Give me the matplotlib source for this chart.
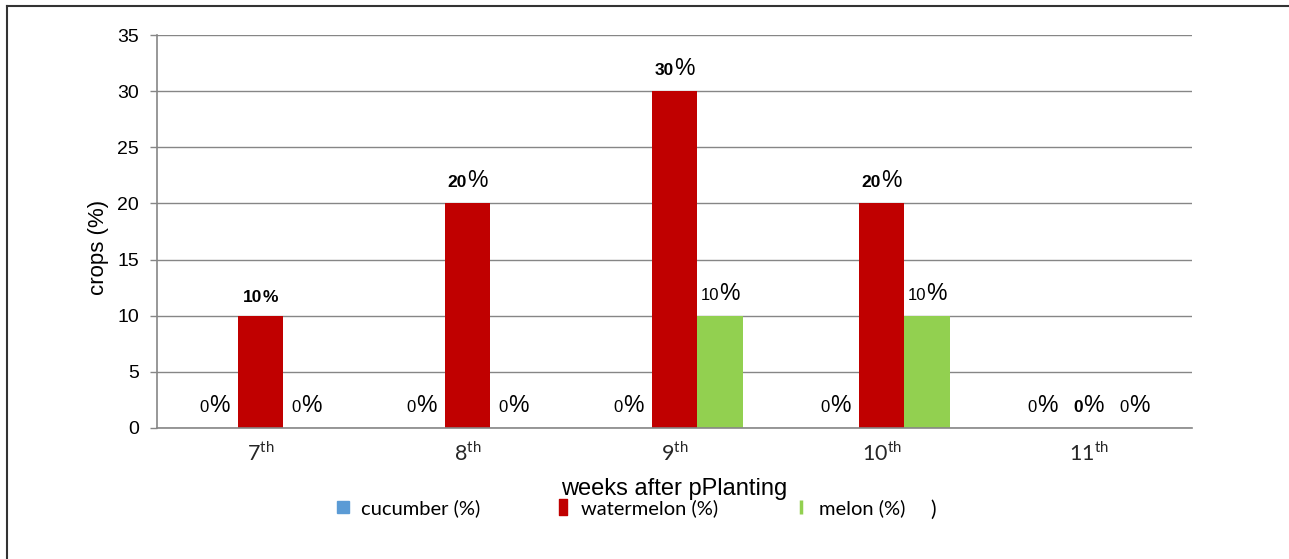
import matplotlib
matplotlib.use('Agg')
import matplotlib.pyplot as plt
import numpy as np
from matplotlib.lines import Line2D
from matplotlib.path import Path
from matplotlib.offsetbox import TextArea, HPacker, AnnotationBbox

plt.rcParams['font.family'] = ['Liberation Sans', 'DejaVu Sans']
plt.rcParams['mathtext.fontset'] = 'custom'
plt.rcParams['mathtext.rm'] = 'Lato'

weeks = ['7', '8', '9', '10', '11']
cucumber = [0, 0, 0, 0, 0]
watermelon = [10, 20, 30, 20, 0]
melon = [0, 0, 10, 10, 0]
series_names = ['cucumber (%)', 'watermelon (%)', 'melon (%)']
colors = ['#5B9BD5', '#C00000', '#92D050']

W, H = 1289, 559
fig = plt.figure(figsize=(W / 100, H / 100), dpi=100)
ax = fig.add_axes([157 / W, 1 - 428 / H, (1192 - 157) / W, (428 - 35) / H])

x = np.arange(len(weeks))
bw = 0.222
all_series = [cucumber, watermelon, melon]
offsets = [-bw, 0, bw]
for vals, off, col in zip(all_series, offsets, colors):
    ax.bar(x + off, vals, bw, color=col, zorder=2)


def label(xpos, val, num_bold, pct_big):
    # number and "%" drawn as two pieces, like the original data labels
    num = TextArea(str(val), textprops=dict(fontsize=12.5 if num_bold else 12,
                   fontweight='bold' if num_bold else 'normal', color='black'))
    pct = TextArea('%', textprops=dict(fontsize=16.5 if pct_big else 12.5,
                   fontweight='normal' if pct_big else 'bold', color='black'))
    box = HPacker(children=[num, pct], align='baseline', pad=0, sep=0)
    ab = AnnotationBbox(box, (xpos, val), xybox=(0, 8), boxcoords='offset points',
                        frameon=False, box_alignment=(0.5, 0), pad=0)
    ax.add_artist(ab)


for i in range(len(weeks)):
    label(x[i] - bw, cucumber[i], False, True)
    label(x[i], watermelon[i], True, i != 0)
    label(x[i] + bw, melon[i], False, True)

ax.set_xlim(-0.5, len(weeks) - 0.5)
ax.set_ylim(0, 35)
ax.set_yticks(range(0, 36, 5))
ax.tick_params(axis='y', labelsize=14, length=5, color='#868686', width=1, pad=8)
ax.set_xticks(x)
ax.set_xticklabels([w + r'$^{\mathrm{th}}$' for w in weeks], fontsize=15.5,
                   fontfamily='Lato', color='#262626')
ax.tick_params(axis='x', length=0, pad=10)
ax.yaxis.grid(True, color='#868686', linewidth=1, zorder=0)
ax.set_axisbelow(True)
for s in ['top', 'right']:
    ax.spines[s].set_visible(False)
for s in ['left', 'bottom']:
    ax.spines[s].set_color('#868686')
    ax.spines[s].set_linewidth(1.2)

ax.set_ylabel('crops (%)', fontsize=16)
ax.yaxis.set_label_coords(-0.046, 0.46)
ax.set_xlabel('weeks after pPlanting', fontsize=17)
ax.xaxis.set_label_coords(0.5, -0.128)

tall = Path([(-0.27, -0.5), (0.27, -0.5), (0.27, 0.5), (-0.27, 0.5), (-0.27, -0.5)],
            [Path.MOVETO, Path.LINETO, Path.LINETO, Path.LINETO, Path.CLOSEPOLY])
handles = [
    Line2D([], [], ls='', marker='s', markersize=8.5, color=colors[0]),
    Line2D([], [], ls='', marker=tall, markersize=11, color=colors[1]),
    Line2D([], [], ls='', marker='|', markersize=10, markeredgewidth=2.5, color=colors[2]),
]
fig.legend(handles, series_names, loc='center', ncol=3, frameon=False,
           bbox_to_anchor=(619 / W, 1 - 508 / H), prop={'family': 'Lato', 'size': 14.5},
           handlelength=1.0, handletextpad=0.4, columnspacing=3.6)
fig.text(930 / W, 1 - 510 / H, ')', fontsize=15, fontfamily='Lato', va='center')

# outer frame (left and top edges visible)
fig.add_artist(Line2D([7 / W, 7 / W], [0, 1 - 6 / H], color='#333333', lw=1.5))
fig.add_artist(Line2D([7 / W, 1], [1 - 6 / H, 1 - 6 / H], color='#333333', lw=1.5))

fig.savefig('out.png', dpi=100)
